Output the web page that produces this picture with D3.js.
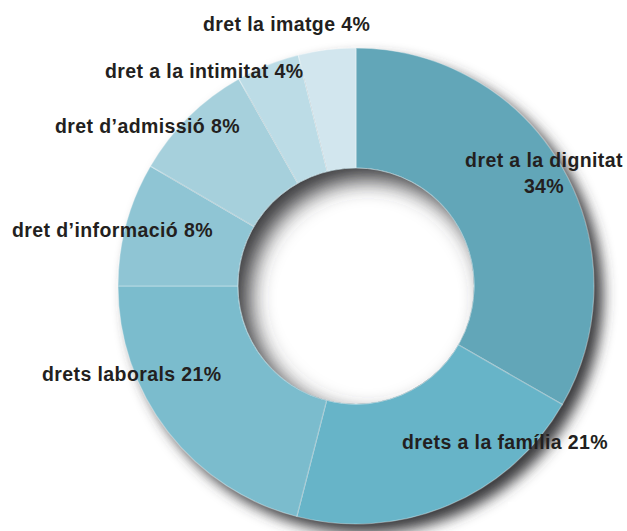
<!DOCTYPE html>
<html><head><meta charset="utf-8">
<script src="https://cdn.jsdelivr.net/npm/d3@7"></script>
<style>
html,body{margin:0;padding:0;background:#fff;}
svg{display:block;}
text{font-family:"Liberation Sans",Arial,Helvetica,sans-serif;font-weight:bold;font-size:19.5px;fill:#231f20;letter-spacing:0.4px;}
</style></head>
<body>
<script>
// categories (clockwise from 12 o'clock)
const categories = ["dret a la dignitat","drets a la família","drets laborals","dret d\u2019informació","dret d\u2019admissió","dret a la intimitat","dret la imatge"];
// share of each slice as drawn (percent)
const values = [33.3, 20.7, 21.0, 8.4, 8.4, 4.3, 3.9];
// printed labels
const percentLabels = ["34%","21%","21%","8%","8%","4%","4%"];
const colors = ["#62a6b8","#67b4c8","#7bbccd","#8fc5d4","#a6d0dc","#bcdce6","#d2e6ee"];
// label layout: [x, y, anchor]
const labelLayout = [[544,167,"middle"],[402,449,"start"],[42,381,"start"],[12,237,"start"],[55,133,"start"],[105,78,"start"],[203,31,"start"]];

const W=627,H=531, cx=356, cy=286, R=238, r=118;
const svg=d3.select("body").append("svg").attr("width",W).attr("height",H);
const defs=svg.append("defs");
defs.append("filter").attr("id","blurOut").attr("x","-30%").attr("y","-30%").attr("width","160%").attr("height","160%")
  .append("feGaussianBlur").attr("stdDeviation",7);
defs.append("filter").attr("id","blurIn").attr("x","-30%").attr("y","-30%").attr("width","160%").attr("height","160%")
  .append("feGaussianBlur").attr("stdDeviation",11);
defs.append("clipPath").attr("id","hole").append("circle").attr("cx",cx).attr("cy",cy).attr("r",r);

// outer drop shadow
svg.append("circle").attr("cx",cx+9).attr("cy",cy+9).attr("r",R).attr("fill","#3a3a3c").attr("filter","url(#blurOut)");
// artifact white box over shadow
svg.append("rect").attr("x",508).attr("y",502).attr("width",W-508).attr("height",H-502).attr("fill","#fff");

const g=svg.append("g").attr("transform",`translate(${cx},${cy})`);
const pie=d3.pie().sort(null).value(d=>d)(values);
const arc=d3.arc().innerRadius(r).outerRadius(R);
g.selectAll("path.slice").data(pie).join("path").attr("class","slice")
  .attr("d",arc).attr("fill",(d,i)=>colors[i])
  .attr("stroke","rgba(255,255,255,0.35)").attr("stroke-width",1.2);

// hole with inset shadow
const hole=svg.append("g").attr("clip-path","url(#hole)");
hole.append("circle").attr("cx",cx).attr("cy",cy).attr("r",r).attr("fill","#fff");
hole.append("circle").attr("cx",cx+12).attr("cy",cy+12).attr("r",r+25).attr("fill","none")
  .attr("stroke","#3a3a3c").attr("stroke-width",50).attr("filter","url(#blurIn)");
svg.append("circle").attr("cx",cx).attr("cy",cy).attr("r",r).attr("fill","none").attr("stroke","rgba(200,230,238,0.6)").attr("stroke-width",1);

// labels
categories.forEach((c,i)=>{
  const [x,y,a]=labelLayout[i];
  const t=svg.append("text").attr("x",x).attr("y",y).attr("text-anchor",a);
  if(i===0){
    t.append("tspan").attr("x",x).text(c);
    t.append("tspan").attr("x",x).attr("dy",26).text(percentLabels[i]);
  } else t.text(c+" "+percentLabels[i]);
});
</script>
</body></html>
